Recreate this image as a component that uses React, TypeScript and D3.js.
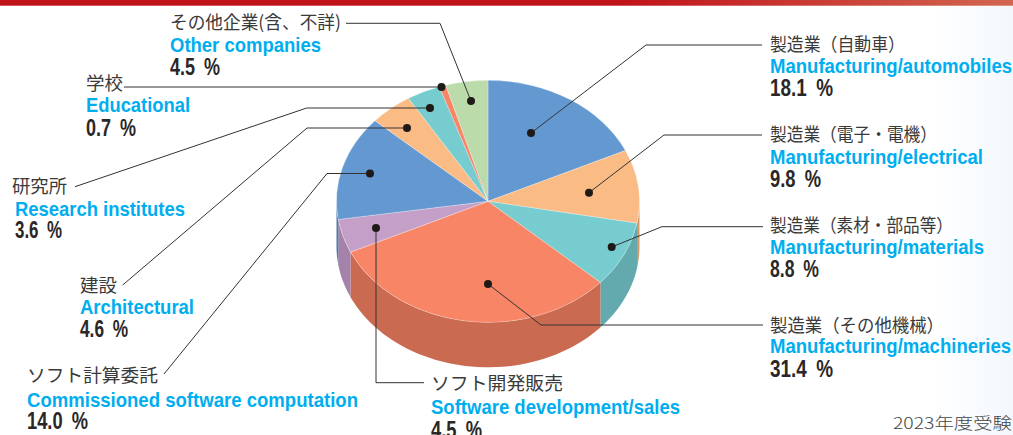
import React from "react";
import * as d3 from "d3";

const categoriesJa = ["製造業（自動車）","製造業（電子・電機）","製造業（素材・部品等）","製造業（その他機械）","ソフト開発販売","ソフト計算委託","建設","研究所","学校","その他企業(含、不詳)"];
const categoriesEn = ["Manufacturing/automobiles","Manufacturing/electrical","Manufacturing/materials","Manufacturing/machineries","Software development/sales","Commissioned software computation","Architectural","Research institutes","Educational","Other companies"];
const shares = [18.1,9.8,8.8,31.4,4.5,14.0,4.6,3.6,0.7,4.5];
const topColors = ["#6498d1","#fbbb84","#76cccf","#f78566","#c49fc8","#6498d1","#fbbb84","#76cccf","#f78566","#bbdcaa"];
const sideColors = ["#4a7cab","#d29a6c","#62aaad","#c96a51","#a582a9","#4a7cab","#d29a6c","#62aaad","#c96a51","#9bb88c"];

// Label placement per category: x, ja baseline, en baseline, pct baseline, widths of ja/en/pct
const jaX = [770,770,770,770,431,27,80,12,86,170];
const enX = [770,770,770,770,431,27,80,15,86,170];
const jaY = [51,141,232,332,390,382,292,193,90,29];
const enY = [73,164,254,353,414,407,314,216,112,52];
const pctY = [96,187,277,377,438,429,337,238,136,75];
const jaW = [135,167,183,174,132,131,37,55,37,171];
const enW = [242,213,214,241,249,331,114,170,104,151];
const pctW = [63,51,49,63,51,61,48,47,50,50];
const leaders: [number,number][][] = [
  [[531,133],[646,45],[762,45]],
  [[589,192.7],[664,135],[762,135]],
  [[611.7,247],[662,226.7],[763,226.7]],
  [[488,284],[541,325],[763,325]],
  [[376,228],[376,382.7],[424,382.7]],
  [[370,173.5],[327,173.5],[164,374]],
  [[407,128],[307,128],[122.7,285]],
  [[430,108],[306.7,108],[75,186.7]],
  [[441.5,87],[124,87]],
  [[471,101],[440,23.3],[346,23.3]],
];

const W = 1013, H = 435;
const CX = 488, CY = 201.3, RX = 151.5, RY = 121, DEPTH = 45;
const JA = "'Noto Sans CJK JP','Noto Sans',sans-serif";
const EN = "'Liberation Sans Narrow','Liberation Sans',Arial,sans-serif";

const px = (a: number) => CX + RX * Math.sin(a);
const py = (a: number) => CY - RY * Math.cos(a);

function sideWall(a0: number, a1: number): string | null {
  const s = Math.max(a0, Math.PI / 2), e = Math.min(a1, (3 * Math.PI) / 2);
  if (e <= s) return null;
  const p = d3.path();
  const pts = d3.range(0, 49).map((i) => s + ((e - s) * i) / 48);
  pts.forEach((a, i) => (i ? p.lineTo(px(a), py(a)) : p.moveTo(px(a), py(a))));
  pts.slice().reverse().forEach((a) => p.lineTo(px(a), py(a) + DEPTH));
  p.closePath();
  return p.toString();
}

export default function App() {
  const arcs = d3.pie<number>().sort(null).value((d) => d)(shares);
  const unit = d3.arc<d3.PieArcDatum<number>>().innerRadius(0).outerRadius(1);
  const line = d3.line();
  return (
    <svg width={W} height={H} viewBox={`0 0 ${W} ${H}`} style={{ position: "fixed", left: 0, top: 0, display: "block" }}>
      <defs>
        <linearGradient id="bar" x1="0" x2="1" y1="0" y2="0">
          <stop offset="0" stopColor="#c1141a" />
          <stop offset="0.62" stopColor="#c1141a" />
          <stop offset="1" stopColor="#d1664f" />
        </linearGradient>
        <linearGradient id="bg" x1="0" x2="1" y1="0" y2="0">
          <stop offset="0.92" stopColor="#ffffff" />
          <stop offset="1" stopColor="#f3f8fd" />
        </linearGradient>
      </defs>
      <rect width={W} height={H} fill="url(#bg)" />
      <rect width={W} height={5.7} fill="url(#bar)" />
      {arcs.map((a, i) => {
        const d = sideWall(a.startAngle, a.endAngle);
        return d ? <path key={i} d={d} fill={sideColors[i]} /> : null;
      })}
      <g transform={`translate(${CX},${CY}) scale(${RX},${RY})`}>
        {arcs.map((a, i) => (
          <path key={i} d={unit(a) ?? ""} fill={topColors[i]} stroke="#ffffff" strokeOpacity={0.45} strokeWidth={0.6} vectorEffect="non-scaling-stroke" />
        ))}
      </g>
      {leaders.map((pts, i) => (
        <g key={i}>
          <path d={line(pts) ?? ""} fill="none" stroke="#333" strokeWidth={1} />
          <circle cx={pts[0][0]} cy={pts[0][1]} r={4} fill="#1f1a17" />
        </g>
      ))}
      {shares.map((v, i) => (
        <g key={i}>
          <text x={jaX[i]} y={jaY[i]} fontFamily={JA} fontWeight={400} fontSize={18} fill="#3a3a3a" textLength={jaW[i]} lengthAdjust="spacingAndGlyphs">{categoriesJa[i]}</text>
          <text x={enX[i]} y={enY[i]} fontFamily={EN} fontWeight={700} fontSize={21} fill="#00aeef" textLength={enW[i]} lengthAdjust="spacingAndGlyphs">{categoriesEn[i]}</text>
          <text x={enX[i]} y={pctY[i]} fontFamily={EN} fontWeight={700} fontSize={23} fill="#2b2727" textLength={pctW[i]} lengthAdjust="spacingAndGlyphs">{`${v.toFixed(1)}\u2002%`}</text>
        </g>
      ))}
      <text x={893} y={429} fontFamily={JA} fontWeight={300} fontSize={16} fill="#444" textLength={119} lengthAdjust="spacingAndGlyphs">2023年度受験</text>
    </svg>
  );
}
